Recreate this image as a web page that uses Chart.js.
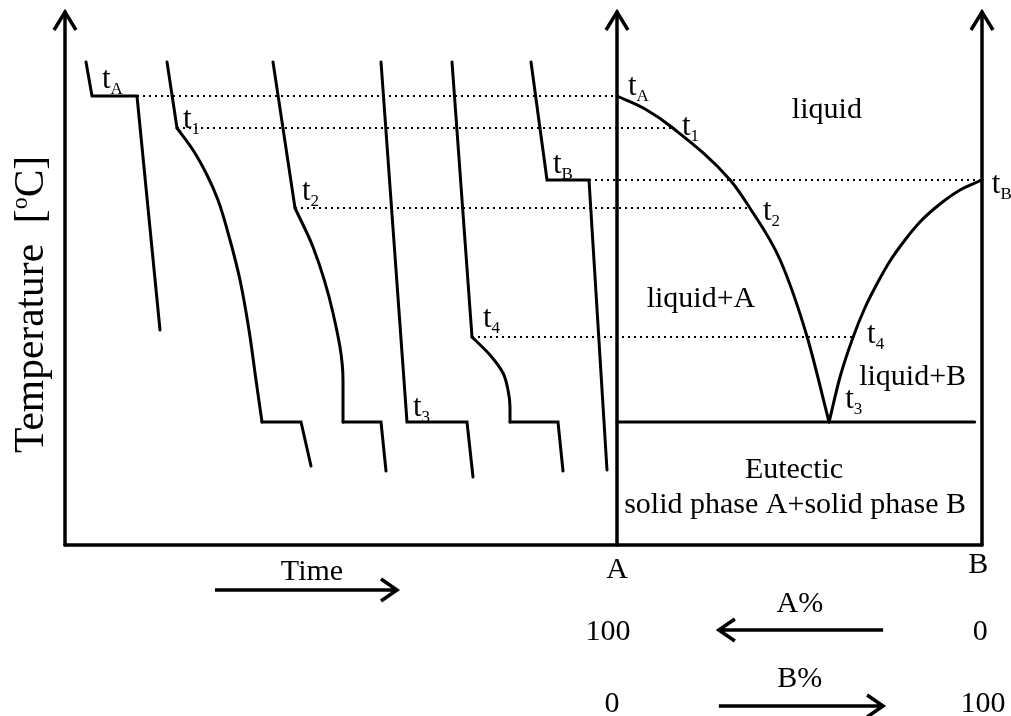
<!DOCTYPE html>
<html lang="en">
<head>
<meta charset="UTF-8">
<title>Cooling curves and eutectic phase diagram</title>
<script src="https://cdn.jsdelivr.net/npm/chart.js"></script>
<style>
    html, body { margin: 0; padding: 0; background: #fff; }
    canvas { display: block; }
</style>
</head>
<body>
<canvas id="myChart" width="1011" height="716"></canvas>
<script>
    // temperature: 0 at the bottom axis, arbitrary units
    const T_TOP = 533;
    // time runs 0..TIME_END, pure A sits at TIME_AT_A, composition (B%) is drawn on its own scale
    const TIME_END = 917;
    const TIME_AT_A = 552;
    const TIME_PER_PCT = 3.65;

    // cooling curves (time, temperature)
    const curveA_time = [21, 27, 72, 95];
    const curveA_temp = [483, 449, 449, 215];
    const curve1_time = [102, 112, 128, 142, 153, 165, 175, 184, 191, 197, 236, 246];
    const curve1_temp = [483, 417, 395, 370, 345, 305, 265, 215, 165, 123, 123, 79];
    const curve2_time = [208, 230, 248, 268, 278, 278, 316, 321];
    const curve2_temp = [483, 337, 298, 232, 165, 123, 123, 74];
    const curve3_time = [316, 342, 402, 408];
    const curve3_temp = [483, 123, 123, 68];
    const curve4_time = [387, 407, 425, 438, 443, 445, 445, 493, 498];
    const curve4_temp = [483, 208, 190, 172, 155, 138, 123, 123, 74];
    const curveB_time = [466, 482, 524, 542];
    const curveB_temp = [483, 365, 365, 75];

    // phase diagram (B%, temperature)
    const liqA_pct = [0, 7.7, 15.3, 31, 36.4, 44.7, 52.1, 58.1];
    const liqA_temp = [449, 436, 417, 365, 337, 285, 208, 123];
    const liqB_pct = [58.1, 61.1, 64.7, 67.9, 71.5, 74.8, 78.9, 83.0, 88.5, 94.0, 100];
    const liqB_temp = [123, 168, 208, 237, 263, 284, 305, 323, 341, 355, 365];
    const eutectic_pct = [0, 98];
    const eutectic_temp = [123, 123];

    // dotted tie lines: from a cooling curve (time) to the liquidus (B%)
    const tie_temp = [449, 417, 337, 365, 208];
    const tie_from_time = [72, 112, 230, 524, 407];
    const tie_to_pct = [0, 15.3, 36.4, 100, 64.7];

    const FONT = '"Liberation Serif", "Times New Roman", serif';

    function pts(xs, ys, a, b) {
        const out = [];
        for (let i = a; i <= b; i++) out.push({x: xs[i], y: ys[i]});
        return out;
    }

    function line(data, axis, width) {
        return {
            data: data,
            xAxisID: axis || 'x',
            showLine: true,
            pointRadius: 0,
            borderColor: '#000',
            borderWidth: width || 3,
            borderCapStyle: 'round',
            borderJoinStyle: 'miter',
            tension: 0,
            fill: false,
            clip: false
        };
    }

    // smooth piece, interpolated by the library with a monotone cubic along `index`
    function smooth(data, axis, index) {
        const ds = line(data, axis);
        ds.cubicInterpolationMode = 'monotone';
        ds.indexAxis = index;
        return ds;
    }

    function curveSets(xs, ys, bend) {
        const last = xs.length - 1;
        if (!bend) return [line(pts(xs, ys, 0, last))];
        return [
            line(pts(xs, ys, 0, bend[0])),
            smooth(pts(xs, ys, bend[0], bend[1]), 'x', 'y'),
            line(pts(xs, ys, bend[1], last))
        ];
    }

    const datasets = [].concat(
        // axes
        [line([{x: 0, y: 0}, {x: 0, y: T_TOP}], 'x', 3.5)],
        [line([{x: 0, y: 0}, {x: TIME_END, y: 0}], 'x', 3.5)],
        [line([{x: 0, y: 0}, {x: 0, y: T_TOP}], 'xc', 3.5)],
        [line([{x: 100, y: 0}, {x: 100, y: T_TOP}], 'xc', 3.5)],
        // cooling curves
        curveSets(curveA_time, curveA_temp),
        curveSets(curve1_time, curve1_temp, [1, 9]),
        curveSets(curve2_time, curve2_temp, [1, 5]),
        curveSets(curve3_time, curve3_temp),
        curveSets(curve4_time, curve4_temp, [1, 6]),
        curveSets(curveB_time, curveB_temp),
        // phase diagram
        [smooth(pts(liqA_pct, liqA_temp, 0, liqA_pct.length - 1), 'xc', 'x')],
        [smooth(pts(liqB_pct, liqB_temp, 0, liqB_pct.length - 1), 'xc', 'x')],
        [line(pts(eutectic_pct, eutectic_temp, 0, 1), 'xc')]
    );

    function text(ctx, str, x, y, size, align) {
        ctx.font = size + 'px ' + FONT;
        ctx.textAlign = align || 'center';
        ctx.textBaseline = 'alphabetic';
        ctx.fillText(str, x, y);
    }

    function tLabel(ctx, sub, x, y) {
        text(ctx, 't', x, y, 31, 'left');
        ctx.font = '31px ' + FONT;
        const w = ctx.measureText('t').width;
        text(ctx, sub, x + w, y + 6, 17, 'left');
    }

    function arrow(ctx, x1, y, x2) {
        const dir = x2 > x1 ? 1 : -1;
        ctx.beginPath();
        ctx.moveTo(x1, y);
        ctx.lineTo(x2, y);
        ctx.moveTo(x2 - dir * 16, y - 11);
        ctx.lineTo(x2, y);
        ctx.lineTo(x2 - dir * 16, y + 11);
        ctx.stroke();
    }

    const diagramPlugin = {
        id: 'diagram',
        beforeDatasetsDraw(chart) {
            const ctx = chart.ctx;
            const xs = chart.scales.x, xc = chart.scales.xc, ys = chart.scales.y;
            ctx.save();
            ctx.strokeStyle = '#000';
            ctx.lineWidth = 1.8;
            ctx.setLineDash([2, 4]);
            for (let i = 0; i < tie_temp.length; i++) {
                const y = ys.getPixelForValue(tie_temp[i]);
                ctx.beginPath();
                ctx.moveTo(xs.getPixelForValue(tie_from_time[i]), y);
                ctx.lineTo(xc.getPixelForValue(tie_to_pct[i]), y);
                ctx.stroke();
            }
            ctx.restore();
        },
        afterDatasetsDraw(chart) {
            const ctx = chart.ctx;
            const xs = chart.scales.x, xc = chart.scales.xc, ys = chart.scales.y;
            ctx.save();
            ctx.fillStyle = '#000';
            ctx.strokeStyle = '#000';
            ctx.lineJoin = 'miter';

            // arrowheads on the three vertical axes
            ctx.lineWidth = 3.5;
            const tipY = ys.getPixelForValue(T_TOP);
            [xs.getPixelForValue(0), xc.getPixelForValue(0), xc.getPixelForValue(100)].forEach(function (x) {
                ctx.beginPath();
                ctx.moveTo(x - 11, tipY + 18);
                ctx.lineTo(x, tipY);
                ctx.lineTo(x + 11, tipY + 18);
                ctx.stroke();
            });

            // t labels on the cooling curves
            [['A', 37, 457], ['1', 118, 417], ['2', 237, 345], ['3', 348, 129], ['4', 418, 218], ['B', 488, 372]]
                .forEach(function (l) {
                    tLabel(ctx, l[0], xs.getPixelForValue(l[1]), ys.getPixelForValue(l[2]));
                });
            // t labels on the phase diagram
            [['A', 3.0, 450], ['1', 17.8, 410], ['2', 40, 325], ['B', 102.7, 352], ['4', 68.5, 202], ['3', 62.5, 137]]
                .forEach(function (l) {
                    tLabel(ctx, l[0], xc.getPixelForValue(l[1]), ys.getPixelForValue(l[2]));
                });

            // region names
            [['liquid', 57.5, 427], ['liquid+A', 23, 238], ['liquid+B', 81, 160],
                ['Eutectic', 48.5, 67], ['solid phase A+solid phase B', 48.8, 32]]
                .forEach(function (l) {
                    text(ctx, l[0], xc.getPixelForValue(l[1]), ys.getPixelForValue(l[2]), 30);
                });

            // axis captions under the plot
            text(ctx, 'Time', xs.getPixelForValue(247), ys.getPixelForValue(-35), 30);
            [['A', 0, -33], ['B', 99, -28], ['A%', 50.1, -67], ['B%', 50.1, -142],
                ['100', -2.5, -95], ['0', 99.5, -95], ['0', -1.4, -167], ['100', 100.3, -167]]
                .forEach(function (l) {
                    text(ctx, l[0], xc.getPixelForValue(l[1]), ys.getPixelForValue(l[2]), 30);
                });

            ctx.lineWidth = 3.5;
            arrow(ctx, xs.getPixelForValue(150), ys.getPixelForValue(-45), xs.getPixelForValue(332));
            arrow(ctx, xc.getPixelForValue(72.9), ys.getPixelForValue(-85), xc.getPixelForValue(27.9));
            arrow(ctx, xc.getPixelForValue(27.9), ys.getPixelForValue(-161), xc.getPixelForValue(72.9));

            // rotated temperature caption
            ctx.save();
            ctx.translate(xs.getPixelForValue(-22), ys.getPixelForValue(92));
            ctx.rotate(-Math.PI / 2);
            ctx.textAlign = 'left';
            ctx.textBaseline = 'alphabetic';
            ctx.font = '41.5px ' + FONT;
            let cx = 0;
            ctx.fillText('Temperature  [', cx, 0);
            cx += ctx.measureText('Temperature  [').width;
            ctx.font = '24px ' + FONT;
            ctx.fillText('o', cx, -16);
            cx += ctx.measureText('o').width;
            ctx.font = '41.5px ' + FONT;
            ctx.fillText('C]', cx, 0);
            ctx.restore();

            ctx.restore();
        }
    };

    new Chart(document.getElementById('myChart'), {
        type: 'scatter',
        data: {datasets: datasets},
        options: {
            responsive: false,
            animation: false,
            devicePixelRatio: 1,
            layout: {padding: {left: 65, right: 29, top: 12, bottom: 171}},
            plugins: {legend: {display: false}, tooltip: {enabled: false}},
            scales: {
                x: {type: 'linear', min: 0, max: TIME_END, display: false},
                xc: {
                    type: 'linear', axis: 'x', display: false,
                    min: -TIME_AT_A / TIME_PER_PCT,
                    max: (TIME_END - TIME_AT_A) / TIME_PER_PCT
                },
                y: {type: 'linear', min: 0, max: T_TOP, display: false}
            }
        },
        plugins: [diagramPlugin]
    });
</script>
</body>
</html>
